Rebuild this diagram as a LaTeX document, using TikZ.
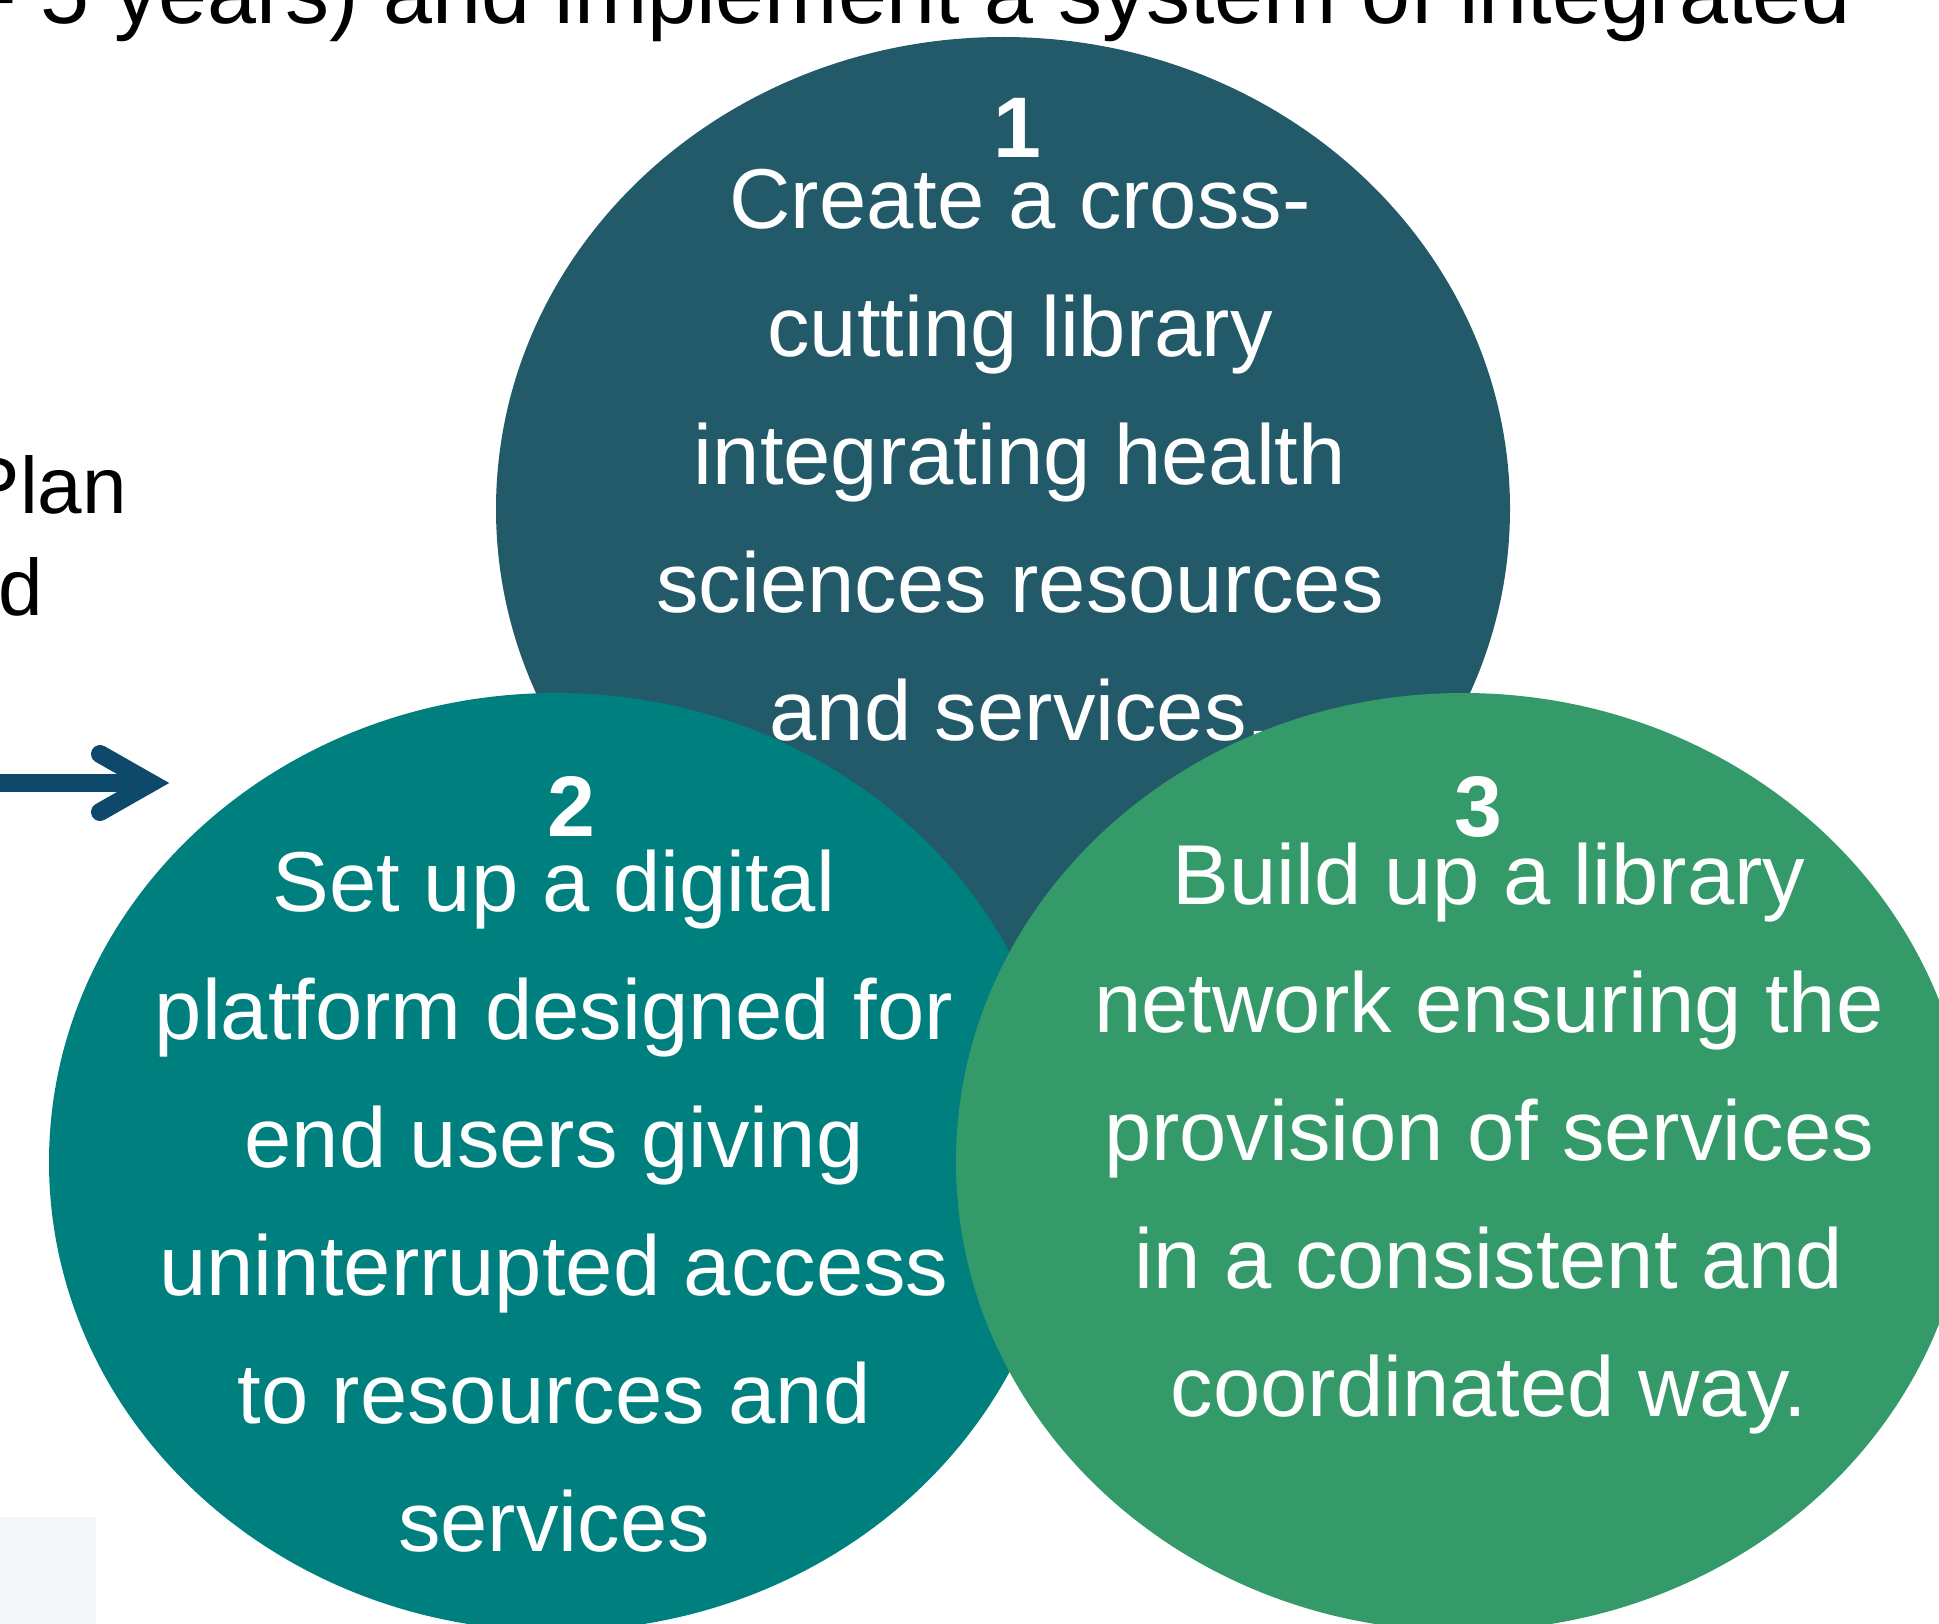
\documentclass[tikz,border=0pt]{standalone}
\usepackage{fontspec}
\setmainfont{Liberation Sans}
\definecolor{cdark}{HTML}{235A6A}
\definecolor{cteal}{HTML}{007F7F}
\definecolor{cgreen}{HTML}{359A6A}
\definecolor{carrow}{HTML}{0E496C}
\definecolor{cpale}{HTML}{F3F7F9}
\begin{document}
\begin{tikzpicture}[x=1pt,y=-1pt,
  bubbletext/.style={text=white,align=center,anchor=north,inner sep=0pt,font=\fontsize{85}{128}\selectfont},
  numtext/.style={text=white,anchor=base,inner sep=0pt,font=\fontsize{86}{100}\selectfont\bfseries},
  plaintext/.style={text=black,inner sep=0pt,font=\fontsize{#1}{#1}\selectfont},
  arrowline/.style={draw=carrow,line width=18pt}
]
\useasboundingbox (0,0) rectangle (1939,1624);
\clip (0,0) rectangle (1939,1624);
% top partial line
\node[plaintext=88,anchor=base east] (top) at (1851,24) {- 5 years) and implement a system of integrated};
% left fragments
\node[plaintext=80,anchor=base east] (plan) at (127,513) {Plan};
\node[plaintext=80,anchor=base east] (dd) at (43,615) {d};
% pale box bottom left
\fill[cpale] (0,1517) rectangle (96,1624);
% arrow
\coordinate (as) at (-10,783);
\coordinate (ae) at (145,783);
\coordinate (tip) at (151,783);
\coordinate (au) at (100,754);
\coordinate (ad) at (100,812);
\draw[arrowline] (as) -- (ae);
\draw[arrowline,line cap=round,line join=miter] (au) -- (tip) -- (ad);
% circle 1
\fill[cdark] (1003,509) ellipse [x radius=507pt, y radius=472pt];
\node[numtext] (n1) at (1017,158) {1};
\node[bubbletext] (t1) at (1020,169) {Create a cross-\\cutting library\\integrating health\\sciences resources\\and services.};
% circle 2
\fill[cteal] (556,1162) ellipse [x radius=507pt, y radius=469pt];
\node[numtext] (n2) at (571,836) {2};
\node[bubbletext] (t2) at (554,850) {Set up a digital\\platform designed for\\end users giving\\uninterrupted access\\to resources and\\services};
% circle 3
\fill[cgreen] (1463,1162) ellipse [x radius=507pt, y radius=469pt];
\node[numtext] (n3) at (1478,836) {3};
\node[bubbletext] (t3) at (1489,843) {Build up a library\\network ensuring the\\provision of services\\in a consistent and\\coordinated way.};
\end{tikzpicture}
\end{document}
